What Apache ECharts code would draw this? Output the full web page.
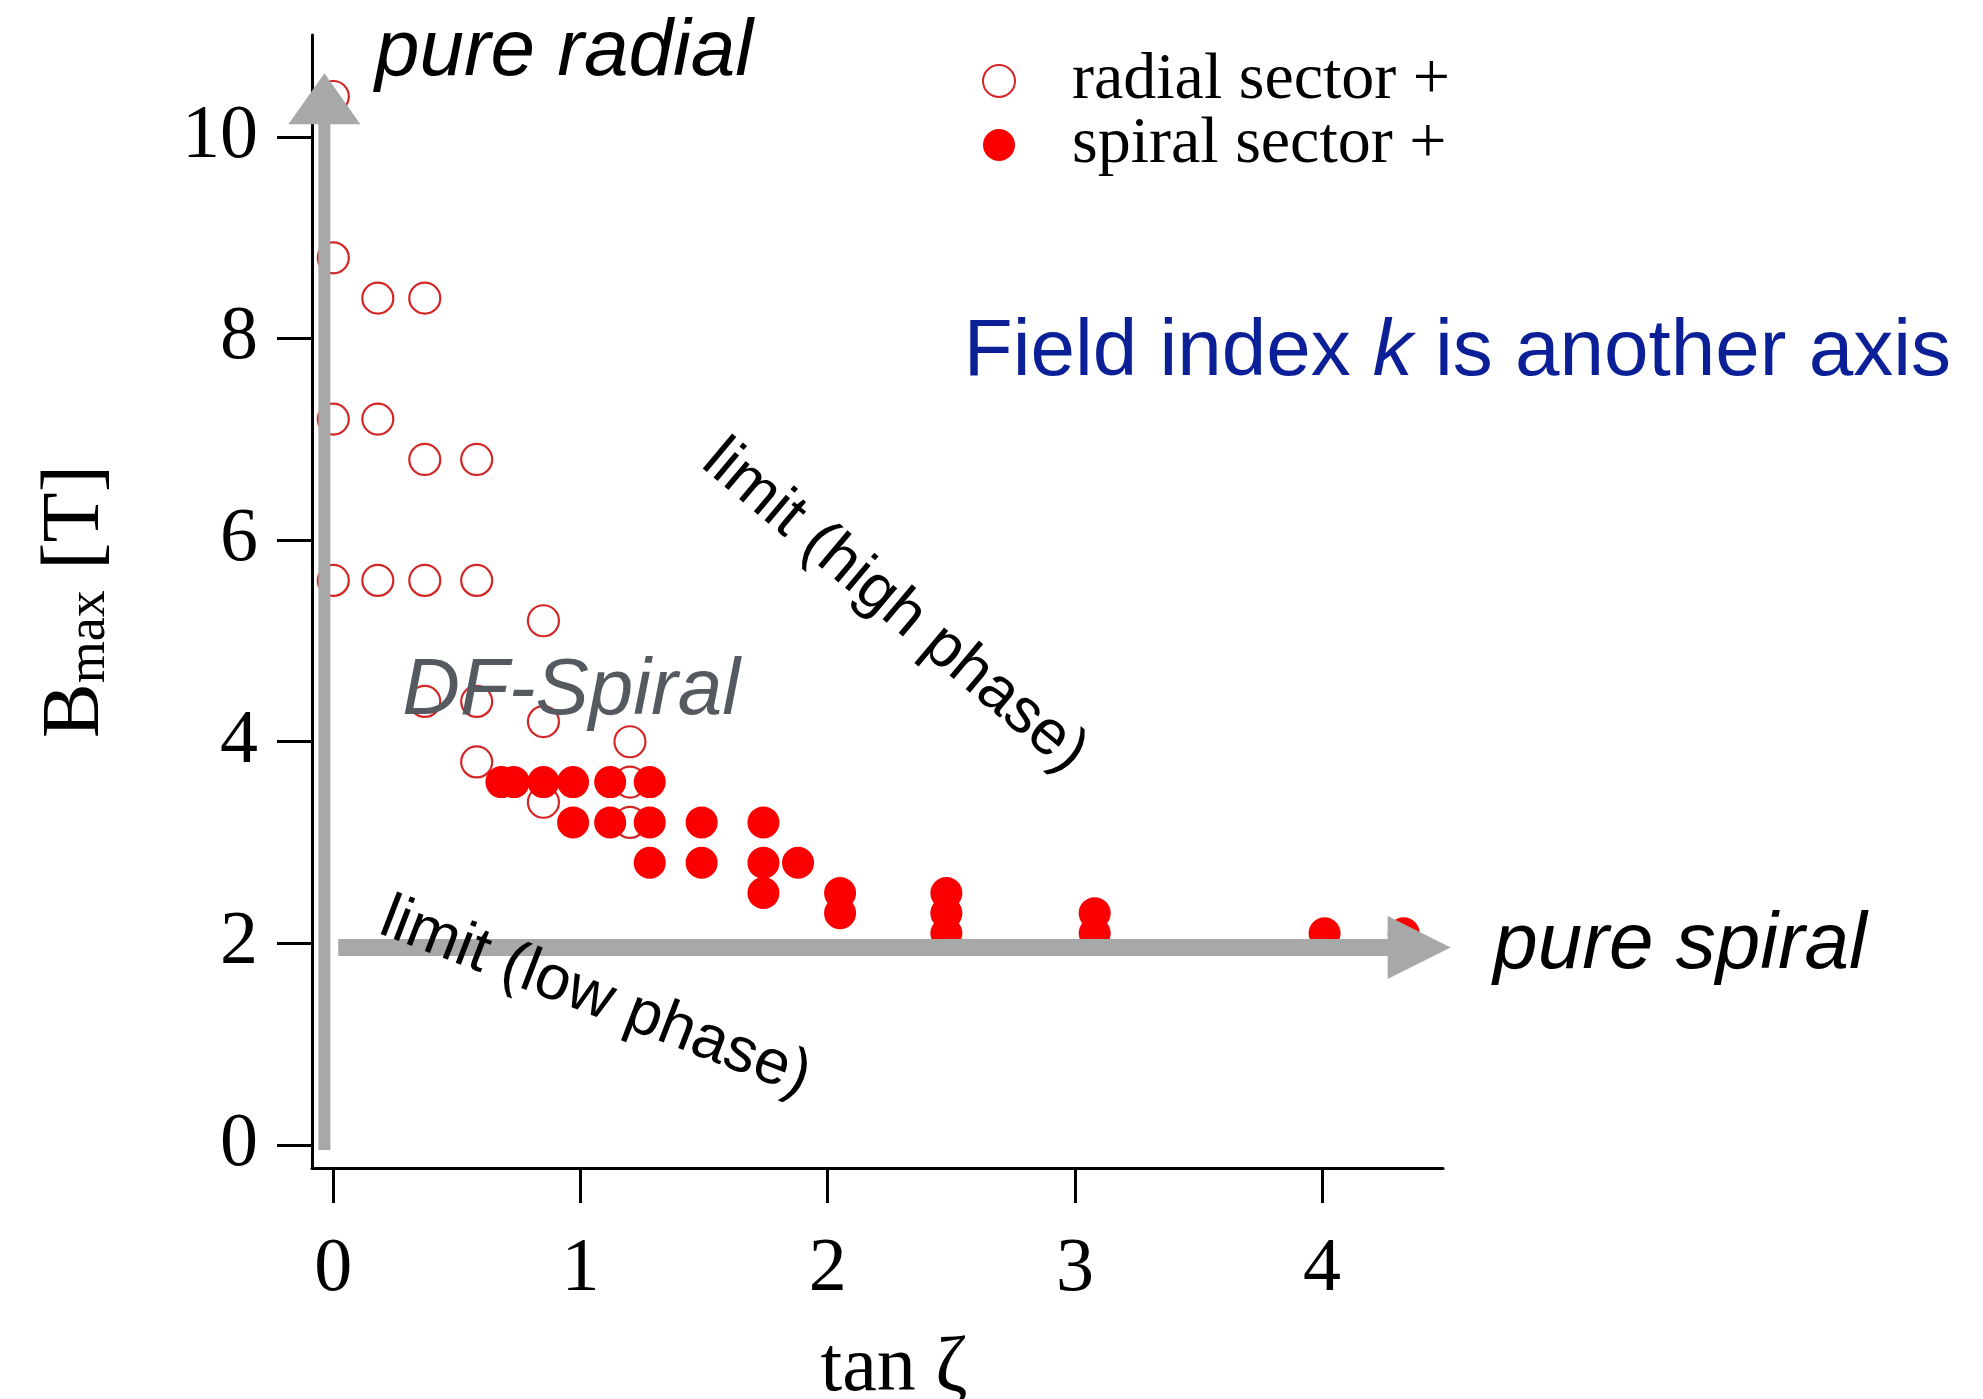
<!DOCTYPE html>
<html>
<head>
<meta charset="utf-8">
<script src="https://cdn.jsdelivr.net/npm/echarts@6/dist/echarts.min.js"></script>
<style>
html,body{margin:0;padding:0;background:#fff;}
#c{width:1983px;height:1399px;}
</style>
</head>
<body>
<div id="c"></div>
<script>
// ---- data ----
const radialX = [0, 0, 0.18, 0.37, 0, 0.18, 0.37, 0.58, 0, 0.18, 0.37, 0.58, 0.85, 0.37, 0.58, 0.85, 1.2, 0.58, 1.2, 0.85, 1.2];
const radialY = [10.4, 8.8, 8.4, 8.4, 7.2, 7.2, 6.8, 6.8, 5.6, 5.6, 5.6, 5.6, 5.2, 4.4, 4.4, 4.2, 4.0, 3.8, 3.6, 3.4, 3.2];
const spiralX = [0.68, 0.73, 0.85, 0.97, 1.12, 1.28, 0.97, 1.12, 1.28, 1.49, 1.74, 1.28, 1.49, 1.74, 1.88, 1.74, 2.05, 2.48, 2.05, 2.48, 3.08, 2.48, 3.08, 4.01, 4.33];
const spiralY = [3.6, 3.6, 3.6, 3.6, 3.6, 3.6, 3.2, 3.2, 3.2, 3.2, 3.2, 2.8, 2.8, 2.8, 2.8, 2.5, 2.5, 2.5, 2.3, 2.3, 2.3, 2.1, 2.1, 2.1, 2.1];
const xTicks = [0, 1, 2, 3, 4];
const yTicks = [0, 2, 4, 6, 8, 10];
const seriesNames = ['radial sector +', 'spiral sector +'];
// arrows: [tailX, tailY, tipX, tipY] in data units
const arrowPts = [[-0.036, -0.05, -0.036, 10.63], [0.02, 1.96, 4.52, 1.96]];
// annotation texts anchored in data units
const noteText = ['pure radial', 'pure spiral', 'DF-Spiral', 'limit (high phase)', 'limit (low phase)', 'Field index {k|k} is another axis'];
const noteX = [0.933, 5.448, 0.962, 2.27, 1.06, 4.547];
const noteY = [10.83, 1.98, 4.50, 5.34, 1.46, 7.86];

// ---- styles ----
const arrowStyle = [{shaft: 12, headLen: 51, headW: 72}, {shaft: 17, headLen: 63, headW: 63}];
const noteStyle = [
  {fontSize: 80, fontStyle: 'italic', color: '#000', rotate: 0},
  {fontSize: 80, fontStyle: 'italic', color: '#000', rotate: 0},
  {fontSize: 80, fontStyle: 'italic', color: '#555a61', rotate: 0},
  {fontSize: 63, fontStyle: 'normal', color: '#000', rotate: -40},
  {fontSize: 63, fontStyle: 'normal', color: '#000', rotate: -21},
  {fontSize: 80, fontStyle: 'normal', color: '#0b1f96', rotate: 0}
];
const SERIF = '"Liberation Serif","Times New Roman",serif';
const SANS = '"Liberation Sans",Arial,Helvetica,sans-serif';

const radialData = radialX.map((x, i) => [x, radialY[i]]);
const spiralData = spiralX.map((x, i) => [x, spiralY[i]]);
const noteData = noteText.map((t, i) => ({
  value: [noteX[i], noteY[i]],
  label: {
    show: true, position: 'inside', formatter: t,
    rotate: noteStyle[i].rotate,
    fontFamily: SANS, fontSize: noteStyle[i].fontSize,
    fontStyle: noteStyle[i].fontStyle, color: noteStyle[i].color,
    rich: {k: {fontFamily: SANS, fontSize: noteStyle[i].fontSize, fontStyle: 'italic', color: noteStyle[i].color}}
  }
}));

const chart = echarts.init(document.getElementById('c'), null, {renderer: 'canvas'});
chart.setOption({
  backgroundColor: '#fff',
  animation: false,
  grid: {left: 312, right: 540, top: 35, bottom: 231, containLabel: false, outerBoundsMode: 'none'},
  legend: {
    data: seriesNames.map(n => ({name: n, icon: 'circle'})),
    orient: 'vertical', left: 977, top: 43, itemWidth: 136, itemHeight: 32, itemGap: -2,
    selectedMode: false,
    textStyle: {fontFamily: SERIF, fontSize: 66, color: '#000'}
  },
  xAxis: {
    type: 'value', min: -0.0862, max: 4.489,
    splitLine: {show: false},
    axisLine: {show: true, onZero: false, lineStyle: {color: '#000', width: 3}},
    axisTick: {show: true, length: 35, lineStyle: {color: '#000', width: 3}, customValues: xTicks},
    axisLabel: {customValues: xTicks, margin: 64, fontFamily: SERIF, fontSize: 76, color: '#000'},
    name: 'tan ζ', nameLocation: 'middle', nameGap: 163,
    nameTextStyle: {fontFamily: SERIF, fontSize: 78, color: '#000', padding: [0, 0, 0, 33]}
  },
  yAxis: {
    type: 'value', min: -0.228, max: 11.01,
    splitLine: {show: false},
    axisLine: {show: true, onZero: false, lineStyle: {color: '#000', width: 3}},
    axisTick: {show: true, length: 35, lineStyle: {color: '#000', width: 3}, customValues: yTicks},
    axisLabel: {customValues: yTicks, margin: 54, fontFamily: SERIF, fontSize: 76, color: '#000'},
    name: '{b|B}{s|max}{b| [T]}', nameLocation: 'middle', nameRotate: 90, nameGap: 195,
    nameTextStyle: {
      fontFamily: SERIF, fontSize: 76, color: '#000',
      rich: {
        b: {fontFamily: SERIF, fontSize: 82, color: '#000', lineHeight: 82, verticalAlign: 'top'},
        s: {fontFamily: SERIF, fontSize: 54, color: '#000', lineHeight: 54, verticalAlign: 'bottom', padding: [34, 0, 0, 0]}
      }
    }
  },
  series: [
    {
      name: seriesNames[0], type: 'scatter', data: radialData, symbol: 'circle', symbolSize: 31,
      itemStyle: {color: 'rgba(255,255,255,0)', borderColor: '#d32626', borderWidth: 2.2, opacity: 1},
      z: 2, silent: true
    },
    {
      name: seriesNames[1], type: 'scatter', data: spiralData, symbol: 'circle', symbolSize: 32,
      itemStyle: {color: '#fa0000', opacity: 1},
      z: 3, silent: true
    },
    {
      name: 'arrows', type: 'custom', data: arrowPts, clip: false, z: 4, silent: true,
      encode: {x: [0, 2], y: [1, 3]},
      renderItem: function (params, api) {
        const st = arrowStyle[params.dataIndex];
        const a = api.coord([api.value(0), api.value(1)]);
        const b = api.coord([api.value(2), api.value(3)]);
        const dx = b[0] - a[0], dy = b[1] - a[1];
        const len = Math.sqrt(dx * dx + dy * dy);
        const ux = dx / len, uy = dy / len, nx = -uy, ny = ux;
        const nk = [b[0] - ux * st.headLen, b[1] - uy * st.headLen];
        const hs = st.shaft / 2, hw = st.headW / 2;
        const pts = [
          [a[0] + nx * hs, a[1] + ny * hs],
          [nk[0] + nx * hs, nk[1] + ny * hs],
          [nk[0] + nx * hw, nk[1] + ny * hw],
          b,
          [nk[0] - nx * hw, nk[1] - ny * hw],
          [nk[0] - nx * hs, nk[1] - ny * hs],
          [a[0] - nx * hs, a[1] - ny * hs]
        ];
        return {type: 'polygon', shape: {points: pts}, style: {fill: '#a7a9a8'}};
      }
    },
    {
      name: 'notes', type: 'scatter', data: noteData, symbolSize: 0, clip: false, z: 5, silent: true,
      itemStyle: {color: 'rgba(0,0,0,0)', opacity: 1}
    }
  ]
});
</script>
</body>
</html>
